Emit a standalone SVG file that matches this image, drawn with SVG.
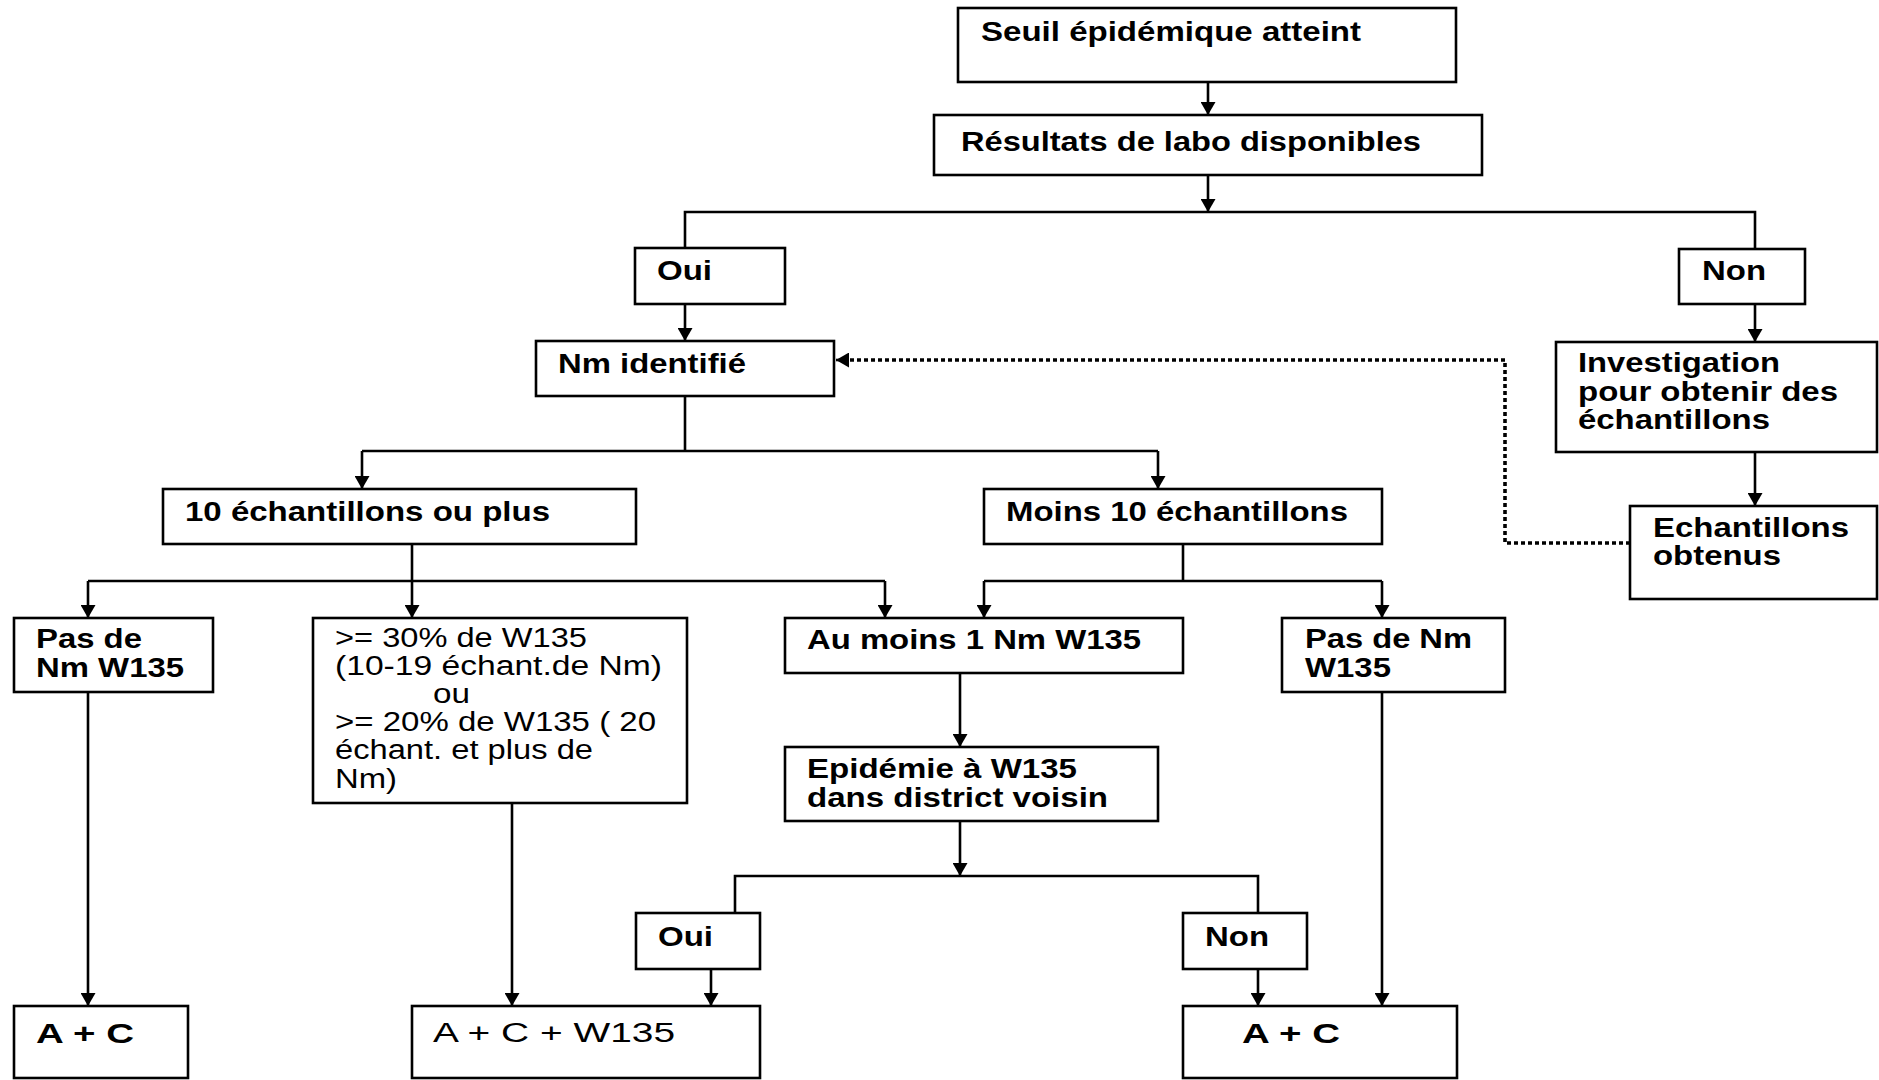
<svg xmlns="http://www.w3.org/2000/svg" width="1879" height="1080" viewBox="0 0 1879 1080">
<defs>
<style>
.box{fill:#fff;stroke:#000;stroke-width:2.6}
.b{font-family:"Liberation Sans",Arial,sans-serif;font-weight:bold;font-size:27px;fill:#000}
.r{font-family:"Liberation Sans",Arial,sans-serif;font-size:27px;fill:#000}
.ln{fill:none;stroke:#000;stroke-width:2.6}
.dot{fill:none;stroke:#000;stroke-width:3.6;stroke-dasharray:4 3}
</style>
<marker id="ah" markerUnits="userSpaceOnUse" markerWidth="14" markerHeight="15" refX="13" refY="7.5" orient="auto">
<path d="M0,0 L13,7.5 L0,15 Z" fill="#000"/>
</marker>
</defs>
<rect width="1879" height="1080" fill="#fff"/>

<g id="connectors">
<path class="ln" d="M1208,82 V115" marker-end="url(#ah)"/>
<path class="ln" d="M1208,175 V212" marker-end="url(#ah)"/>
<path class="ln" d="M685,248 V212 H1755 V249"/>
<path class="ln" d="M685,304 V341" marker-end="url(#ah)"/>
<path class="ln" d="M1755,304 V342" marker-end="url(#ah)"/>
<path class="ln" d="M1755,452 V506" marker-end="url(#ah)"/>
<path class="dot" d="M1630,543 H1505 V360 H848"/>
<path class="ln" d="M848,360 H836" marker-end="url(#ah)"/>
<path class="ln" d="M685,396 V451"/>
<path class="ln" d="M362,451 H1158"/>
<path class="ln" d="M362,451 V489" marker-end="url(#ah)"/>
<path class="ln" d="M1158,451 V489" marker-end="url(#ah)"/>
<path class="ln" d="M412,544 V618" marker-end="url(#ah)"/>
<path class="ln" d="M88,581 H885"/>
<path class="ln" d="M88,581 V618" marker-end="url(#ah)"/>
<path class="ln" d="M885,581 V618" marker-end="url(#ah)"/>
<path class="ln" d="M1183,544 V581"/>
<path class="ln" d="M984,581 H1382"/>
<path class="ln" d="M984,581 V618" marker-end="url(#ah)"/>
<path class="ln" d="M1382,581 V618" marker-end="url(#ah)"/>
<path class="ln" d="M88,692 V1006" marker-end="url(#ah)"/>
<path class="ln" d="M512,803 V1006" marker-end="url(#ah)"/>
<path class="ln" d="M960,673 V747" marker-end="url(#ah)"/>
<path class="ln" d="M960,821 V876" marker-end="url(#ah)"/>
<path class="ln" d="M735,913 V876 H1258 V913"/>
<path class="ln" d="M711,969 V1006" marker-end="url(#ah)"/>
<path class="ln" d="M1258,969 V1006" marker-end="url(#ah)"/>
<path class="ln" d="M1382,692 V1006" marker-end="url(#ah)"/>
</g>

<g id="seuil">
<rect class="box" x="958" y="8" width="498" height="74"/>
<text class="b" x="981" y="41" textLength="380" lengthAdjust="spacingAndGlyphs">Seuil épidémique atteint</text>
</g>
<g id="resultats">
<rect class="box" x="934" y="115" width="548" height="60"/>
<text class="b" x="961" y="151" textLength="460" lengthAdjust="spacingAndGlyphs">Résultats de labo disponibles</text>
</g>
<g id="oui1">
<rect class="box" x="635" y="248" width="150" height="56"/>
<text class="b" x="657" y="280" textLength="55" lengthAdjust="spacingAndGlyphs">Oui</text>
</g>
<g id="non1">
<rect class="box" x="1679" y="249" width="126" height="55"/>
<text class="b" x="1702" y="280" textLength="64" lengthAdjust="spacingAndGlyphs">Non</text>
</g>
<g id="nm">
<rect class="box" x="536" y="341" width="298" height="55"/>
<text class="b" x="558" y="373" textLength="188" lengthAdjust="spacingAndGlyphs">Nm identifié</text>
</g>
<g id="investigation">
<rect class="box" x="1556" y="342" width="321" height="110"/>
<text class="b" x="1578" y="372" textLength="202" lengthAdjust="spacingAndGlyphs">Investigation</text>
<text class="b" x="1578" y="400.5" textLength="260" lengthAdjust="spacingAndGlyphs">pour obtenir des</text>
<text class="b" x="1578" y="429" textLength="192" lengthAdjust="spacingAndGlyphs">échantillons</text>
</g>
<g id="echantillons">
<rect class="box" x="1630" y="506" width="247" height="93"/>
<text class="b" x="1653" y="537" textLength="196" lengthAdjust="spacingAndGlyphs">Echantillons</text>
<text class="b" x="1653" y="565" textLength="128" lengthAdjust="spacingAndGlyphs">obtenus</text>
</g>
<g id="dix">
<rect class="box" x="163" y="489" width="473" height="55"/>
<text class="b" x="185" y="521" textLength="365" lengthAdjust="spacingAndGlyphs">10 échantillons ou plus</text>
</g>
<g id="moins">
<rect class="box" x="984" y="489" width="398" height="55"/>
<text class="b" x="1006" y="521" textLength="342" lengthAdjust="spacingAndGlyphs">Moins 10 échantillons</text>
</g>
<g id="pasde1">
<rect class="box" x="14" y="618" width="199" height="74"/>
<text class="b" x="36" y="648" textLength="106" lengthAdjust="spacingAndGlyphs">Pas de</text>
<text class="b" x="36" y="677" textLength="148" lengthAdjust="spacingAndGlyphs">Nm W135</text>
</g>
<g id="pourcentage">
<rect class="box" x="313" y="618" width="374" height="185"/>
<text class="r" x="335" y="647" textLength="252" lengthAdjust="spacingAndGlyphs">&gt;= 30% de W135</text>
<text class="r" x="335" y="675" textLength="327" lengthAdjust="spacingAndGlyphs">(10-19 échant.de Nm)</text>
<text class="r" x="433" y="703" textLength="37" lengthAdjust="spacingAndGlyphs">ou</text>
<text class="r" x="335" y="731" textLength="321" lengthAdjust="spacingAndGlyphs">&gt;= 20% de W135 ( 20</text>
<text class="r" x="335" y="759" textLength="258" lengthAdjust="spacingAndGlyphs">échant. et plus de</text>
<text class="r" x="335" y="788" textLength="62" lengthAdjust="spacingAndGlyphs">Nm)</text>
</g>
<g id="aumoins">
<rect class="box" x="785" y="618" width="398" height="55"/>
<text class="b" x="807" y="649" textLength="334" lengthAdjust="spacingAndGlyphs">Au moins 1 Nm W135</text>
</g>
<g id="pasde2">
<rect class="box" x="1282" y="618" width="223" height="74"/>
<text class="b" x="1305" y="648" textLength="167" lengthAdjust="spacingAndGlyphs">Pas de Nm</text>
<text class="b" x="1305" y="677" textLength="86" lengthAdjust="spacingAndGlyphs">W135</text>
</g>
<g id="epidemie">
<rect class="box" x="785" y="747" width="373" height="74"/>
<text class="b" x="807" y="778" textLength="270" lengthAdjust="spacingAndGlyphs">Epidémie à W135</text>
<text class="b" x="807" y="807" textLength="301" lengthAdjust="spacingAndGlyphs">dans district voisin</text>
</g>
<g id="oui2">
<rect class="box" x="636" y="913" width="124" height="56"/>
<text class="b" x="658" y="946" textLength="55" lengthAdjust="spacingAndGlyphs">Oui</text>
</g>
<g id="non2">
<rect class="box" x="1183" y="913" width="124" height="56"/>
<text class="b" x="1205" y="946" textLength="64" lengthAdjust="spacingAndGlyphs">Non</text>
</g>
<g id="ac1">
<rect class="box" x="14" y="1006" width="174" height="72"/>
<text class="b" x="36" y="1043" font-size="31" textLength="98" lengthAdjust="spacingAndGlyphs">A + C</text>
</g>
<g id="acw">
<rect class="box" x="412" y="1006" width="348" height="72"/>
<text class="r" x="433" y="1042" font-size="32" textLength="242" lengthAdjust="spacingAndGlyphs">A + C + W135</text>
</g>
<g id="ac2">
<rect class="box" x="1183" y="1006" width="274" height="72"/>
<text class="b" x="1242" y="1043" font-size="31" textLength="98" lengthAdjust="spacingAndGlyphs">A + C</text>
</g>
</svg>
